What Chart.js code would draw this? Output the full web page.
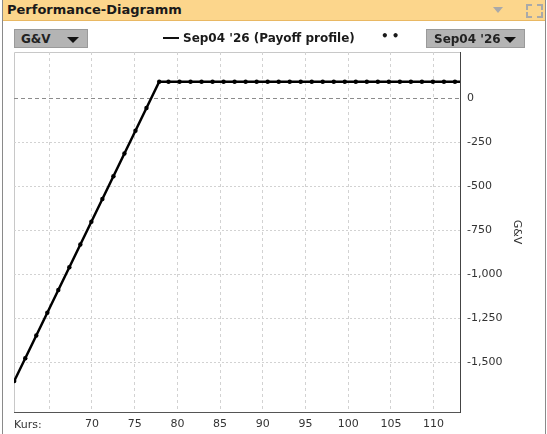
<!DOCTYPE html>
<html>
<head>
<meta charset="utf-8">
<script src="https://cdn.jsdelivr.net/npm/chart.js@4/dist/chart.umd.min.js"></script>
<style>
  html, body { margin:0; padding:0; background:#fff; }
  body { width:547px; height:434px; position:relative; overflow:hidden; font-family:"DejaVu Sans", Verdana, sans-serif; }
  #frameL { position:absolute; left:2px; top:0; width:1px; height:434px; background:#8a8a8a; }
  #frameR { position:absolute; left:545px; top:0; width:1px; height:434px; background:#8a8a8a; }
  #header { position:absolute; left:2px; top:0; width:544px; height:20px; background:#fcd68c; border-bottom:1px solid #e9b863; }
  #htitle { position:absolute; left:5px; top:2px; font-weight:bold; font-size:13px; color:#1a1a1a; }
  #hdrop { position:absolute; left:491px; top:7px; width:0; height:0; border-left:5px solid transparent; border-right:5px solid transparent; border-top:6px solid #a9a9a9; }
  .corner { position:absolute; width:4px; height:4px; border-color:#a9a9a9; border-style:solid; border-width:0; }
  #wrap { position:absolute; left:0; top:0; width:547px; height:434px; }
  .dd { position:absolute; top:29px; height:19px; background:#b4b4b4; border:1px solid #9a9a9a; box-sizing:border-box; font-weight:bold; font-size:12px; color:#222; line-height:18px; }
  .dd .arr { position:absolute; right:8px; top:7px; width:0; height:0; border-left:6px solid transparent; border-right:6px solid transparent; border-top:6px solid #111; }
  #legend { position:absolute; left:163px; top:31px; font-weight:bold; font-size:12px; color:#1a1a1a; white-space:nowrap; }
  #legend .ln { display:inline-block; width:16px; height:2px; background:#111; vertical-align:middle; margin-right:4px; position:relative; top:-1px; }
  #dots { position:absolute; left:381px; top:29px; font-weight:bold; font-size:12px; color:#1a1a1a; letter-spacing:3px; }
  #kurs { position:absolute; left:14px; top:418px; font-size:11px; color:#333; }
</style>
</head>
<body>
<div id="header"><div id="htitle">Performance-Diagramm</div><div id="hdrop"></div>
  <div class="corner" style="left:524px;top:4px;border-top-width:2px;border-left-width:2px;"></div>
  <div class="corner" style="left:535px;top:4px;border-top-width:2px;border-right-width:2px;"></div>
  <div class="corner" style="left:524px;top:12px;border-bottom-width:2px;border-left-width:2px;"></div>
  <div class="corner" style="left:535px;top:12px;border-bottom-width:2px;border-right-width:2px;"></div>
</div>
<div id="frameL"></div><div id="frameR"></div>
<div id="wrap"><canvas id="c"></canvas></div>
<div class="dd" style="left:14px;width:74px;padding-left:6px;">G&amp;V<span class="arr"></span></div>
<div id="legend"><span class="ln"></span>Sep04 '26 (Payoff profile)</div>
<div id="dots">••</div>
<div class="dd" style="left:426px;width:99px;padding-left:7px;">Sep04 '26<span class="arr"></span></div>
<div id="kurs">Kurs:</div>
<script>
const kurs = [60.9, 62.19, 63.48, 64.77, 66.06, 67.35, 68.64, 69.93, 71.22, 72.51, 73.8, 75.09, 76.38, 77.87,
  78.96, 80.25, 81.54, 82.83, 84.12, 85.41, 86.7, 87.99, 89.28, 90.57, 91.86, 93.15, 94.44, 95.73, 97.02,
  98.31, 99.6, 100.89, 102.18, 103.47, 104.76, 106.05, 107.34, 108.63, 109.92, 111.21, 112.5, 113.09];
const gv = [-1605, -1476, -1347, -1218, -1089, -960, -831, -702, -573, -444, -315, -186, -57, 92,
  92, 92, 92, 92, 92, 92, 92, 92, 92, 92, 92, 92, 92, 92, 92,
  92, 92, 92, 92, 92, 92, 92, 92, 92, 92, 92, 92, 92];
const xTicks = [65, 70, 75, 80, 85, 90, 95, 100, 105, 110];
const yTicks = [0, -250, -500, -750, -1000, -1250, -1500];
const xMin = 60.87, xMax = 113.09;
const yMin = -1781, yMax = 261;
const seriesName = "Sep04 '26 (Payoff profile)";
const yTitle = 'G&V';

const frame = {
  id: 'frame',
  beforeDraw(chart) {
    const a = chart.chartArea, ctx = chart.ctx;
    ctx.save();
    ctx.fillStyle = '#fff';
    ctx.fillRect(a.left, a.top, a.right - a.left, a.bottom - a.top);
    ctx.strokeStyle = '#c8c8c8';
    ctx.lineWidth = 1;
    ctx.beginPath();
    ctx.moveTo(a.left + 0.5, a.bottom);
    ctx.lineTo(a.left + 0.5, a.top + 0.5);
    ctx.lineTo(a.right, a.top + 0.5);
    ctx.stroke();
    ctx.restore();
  }
};

const isZero = c => c.tick && c.tick.value === 0;
const lastIdx = kurs.length - 1;
new Chart(document.getElementById('c'), {
  type: 'line',
  data: {
    datasets: [{
      label: seriesName,
      data: kurs.map((x, i) => ({x: x, y: gv[i]})),
      borderColor: '#000',
      borderWidth: 2.5,
      backgroundColor: '#000',
      pointRadius: ctx => ctx.dataIndex === lastIdx ? 0 : 2.2,
      pointBorderWidth: 0,
      pointBackgroundColor: '#000',
      tension: 0,
      fill: false
    }]
  },
  plugins: [frame],
  options: {
    responsive: true,
    maintainAspectRatio: false,
    animation: false,
    locale: 'en-US',
    layout: { padding: { left: 14, top: 52, right: 0, bottom: 0 } },
    plugins: { legend: { display: false }, tooltip: { enabled: false } },
    scales: {
      x: {
        type: 'linear', position: 'bottom', min: xMin, max: xMax,
        afterBuildTicks: s => { s.ticks = xTicks.map(v => ({value: v})); },
        afterFit: s => { s.height = 22; },
        ticks: { padding: 6, maxRotation: 0, autoSkip: false,
          color: '#333', font: { family: 'DejaVu Sans', size: 11 },
          callback: v => v === 65 ? '' : v },
        grid: { color: '#d2d2d2', drawTicks: false },
        border: { color: '#555', width: 1, dash: [3, 3] }
      },
      y: {
        type: 'linear', position: 'right', min: yMin, max: yMax,
        afterBuildTicks: s => { s.ticks = yTicks.map(v => ({value: v})); },
        afterFit: s => { s.width = 87; },
        ticks: { padding: 7, color: '#333', font: { family: 'DejaVu Sans', size: 11 } },
        grid: {
          drawTicks: false,
          color: c => isZero(c) ? '#8c8c8c' : '#d2d2d2'
        },
        border: { color: '#444', width: 1, dash: c => isZero(c) ? [4, 3] : [2, 2] },
        title: { display: true, text: yTitle, color: '#333', font: { family: 'DejaVu Sans', size: 11 }, padding: { top: 24, bottom: 0 } }
      }
    }
  }
});
</script>
</body>
</html>
